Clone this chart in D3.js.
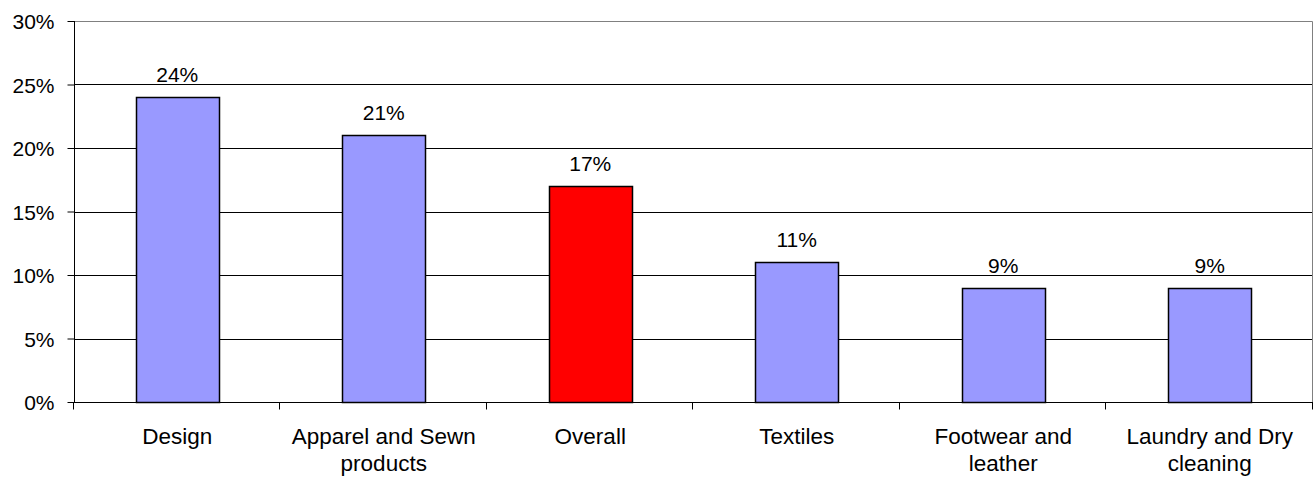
<!DOCTYPE html>
<html>
<head>
<meta charset="utf-8">
<script src="https://cdn.jsdelivr.net/npm/d3@7"></script>
<style>
  html, body { margin: 0; padding: 0; background: #fff; }
  svg text { font-family: Arial, "Liberation Sans", sans-serif; font-size: 21px; fill: #000; }
  svg text.category { font-size: 22.5px; }
</style>
</head>
<body>
<svg id="chart" width="1315" height="477"></svg>
<script>
var categories = ["Design", "Apparel and Sewn products", "Overall", "Textiles", "Footwear and leather", "Laundry and Dry cleaning"];
var values = [24, 21, 17, 11, 9, 9];
var highlighted = ["Overall"];
var yTicks = [0, 5, 10, 15, 20, 25, 30];

var svg = d3.select("svg#chart");
var margin = {top: 21, right: 2, bottom: 75, left: 74};
var width = +svg.attr("width"), height = +svg.attr("height");
var chartWidth = width - margin.left - margin.right;
var chartHeight = height - margin.top - margin.bottom;

var xScale = d3.scaleBand().domain(categories).range([0, chartWidth]).paddingInner(0.6).paddingOuter(0.3);
var yScale = d3.scaleLinear().domain([0, 30]).range([chartHeight, 0]);

var g = svg.append("g").attr("transform", "translate(" + margin.left + "," + margin.top + ")");

// gridlines
g.append("g").selectAll("line").data(yTicks.filter(function (d) { return d > 0 && d < 30; }))
  .enter().append("line")
  .attr("x1", 0).attr("x2", chartWidth)
  .attr("y1", function (d) { return Math.round(yScale(d)) + 0.5; })
  .attr("y2", function (d) { return Math.round(yScale(d)) + 0.5; })
  .style("stroke", "#000");

// plot border, top and right
g.append("path")
  .attr("d", "M0,0.5H" + (chartWidth - 0.5) + "V" + chartHeight)
  .style("fill", "none").style("stroke", "#808080");

// bars
g.selectAll("rect.bar").data(values).enter().append("rect")
  .attr("class", "bar")
  .attr("x", function (d, i) { return Math.round(xScale(categories[i])) + 0.5; })
  .attr("width", Math.round(xScale.bandwidth()))
  .attr("y", function (d) { return Math.round(yScale(d)) + 0.5; })
  .attr("height", function (d) { return Math.round(yScale(0)) - Math.round(yScale(d)); })
  .style("fill", function (d, i) { return highlighted.indexOf(categories[i]) >= 0 ? "#ff0000" : "#9999ff"; })
  .style("stroke", "#000").style("stroke-width", 1.5);

// value labels
g.selectAll("text.value").data(values).enter().append("text")
  .attr("class", "value")
  .attr("x", function (d, i) { return xScale(categories[i]) + xScale.bandwidth() / 2; })
  .attr("y", function (d) { return yScale(d) - 15; })
  .attr("text-anchor", "middle")
  .text(function (d) { return d + "%"; });

// y axis
var leftAxis = d3.axisLeft(yScale).tickValues(yTicks).tickSize(7).tickPadding(13)
  .tickFormat(function (d) { return d + "%"; });
var yAxisG = g.append("g").attr("transform", "translate(0.5,0)").call(leftAxis);
yAxisG.select(".domain").attr("d", "M0,0V" + chartHeight);
yAxisG.selectAll(".tick line").attr("x1", -7).attr("x2", 0);
yAxisG.selectAll("text").style("font-size", "21px").style("font-family", null).attr("dy", "0.36em");
yAxisG.selectAll("path, line").style("stroke", "#000");

// x axis: tick marks on category boundaries
var bounds = categories.map(function (c) { return xScale(c) - xScale.step() * 0.3; });
bounds.push(chartWidth);
var xAxisG = g.append("g").attr("transform", "translate(0," + (Math.round(chartHeight) + 0.5) + ")");
xAxisG.append("line").attr("x1", 0).attr("x2", chartWidth).style("stroke", "#000");
xAxisG.selectAll("line.tick").data(bounds).enter().append("line")
  .attr("class", "tick")
  .attr("x1", function (d) { return Math.round(d) - 0.5; })
  .attr("x2", function (d) { return Math.round(d) - 0.5; })
  .attr("y1", 0).attr("y2", 7)
  .style("stroke", "#000");

// category labels, wrapped to fit
function wrapLabel(text, maxWidth) {
  var words = text.split(" "), lines = [], line = [];
  var probe = svg.append("text").attr("class", "category");
  words.forEach(function (w) {
    line.push(w);
    probe.text(line.join(" "));
    if (probe.node().getComputedTextLength() > maxWidth && line.length > 1) {
      line.pop();
      lines.push(line.join(" "));
      line = [w];
    }
  });
  lines.push(line.join(" "));
  probe.remove();
  return lines;
}

categories.forEach(function (c) {
  var lines = wrapLabel(c, 195);
  var cx = xScale(c) + xScale.bandwidth() / 2;
  var t = xAxisG.append("text")
    .attr("class", "category")
    .attr("text-anchor", "middle")
    .attr("x", cx)
    .attr("y", 41);
  lines.forEach(function (l, i) {
    t.append("tspan").attr("x", cx).attr("y", 41 + i * 27).text(l);
  });
});
</script>
</body>
</html>
